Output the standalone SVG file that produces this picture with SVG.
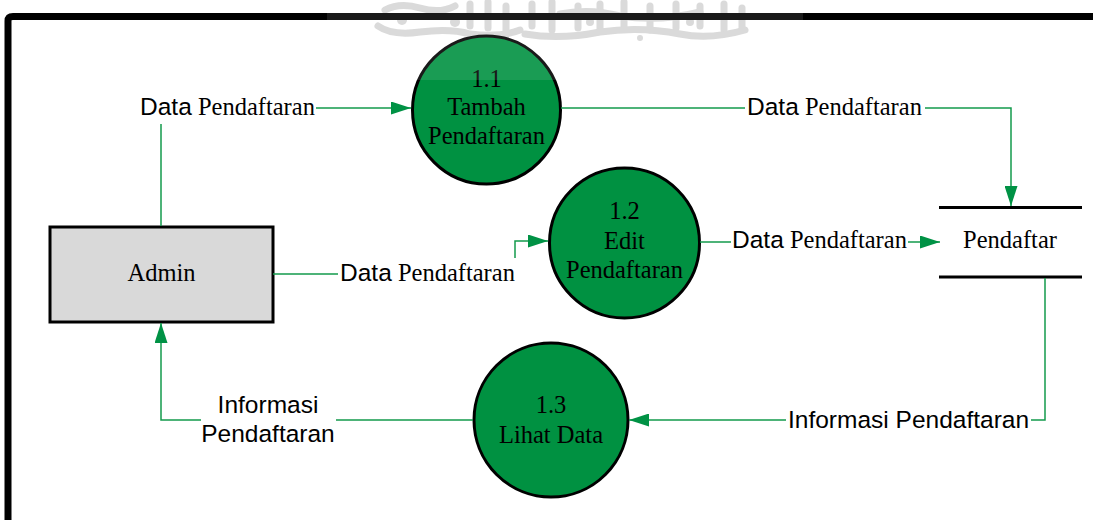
<svg xmlns="http://www.w3.org/2000/svg" width="1093" height="520" viewBox="0 0 1093 520">
<defs>
<style>
.proc{fill:#009141;stroke:#000;stroke-width:3}
.ent{fill:#d9d9d9;stroke:#000;stroke-width:3}
.store{stroke:#000;stroke-width:3}
.serif{font-family:"Liberation Serif","Times New Roman",serif;font-size:24.5px;fill:#000}
.sans{font-family:"Liberation Sans",Arial,sans-serif;font-size:24.5px;fill:#000}
.flow{fill:none;stroke:#139a4c;stroke-width:1.5}
.wm{fill:none;stroke:#d6d6d6;stroke-linecap:round;stroke-linejoin:round}
</style>
<marker id="arr" markerUnits="userSpaceOnUse" markerWidth="20" markerHeight="13" refX="20" refY="6.5" orient="auto">
<path d="M0,0 L20,6.5 L0,13 z" fill="#009245"/>
</marker>
</defs>
<rect width="1093" height="520" fill="#fff"/>
<g id="watermark">
<g class="wm" stroke-width="7">
<path d="M378,26 Q392,36 420,32 Q450,28 470,34 Q500,38 520,30"/>
<path d="M385,10 Q400,2 420,8 Q440,14 455,6"/>
<path d="M470,4 V26 M488,2 V28 M506,6 V30 M532,4 V26 M552,2 V30 M578,6 V28 M600,4 V30 M624,2 V26 M650,6 V30 M676,4 V28 M700,6 V26 M724,4 V30 M742,8 V28"/>
<path d="M525,34 Q560,40 600,32 Q640,26 680,34 Q710,40 745,30"/>
<path d="M560,14 Q590,8 620,16 Q660,22 700,12"/>
</g>
<g fill="#d6d6d6">
<circle cx="402" cy="20" r="5"/><circle cx="455" cy="22" r="5"/><circle cx="590" cy="22" r="4"/><circle cx="690" cy="22" r="4"/><circle cx="640" cy="38" r="3"/>
</g>
</g>
<path d="M8,530 V21 Q8,16.5 13,16.5 H1100" fill="none" stroke="#000" stroke-width="7"/>
<g id="admin">
<rect class="ent" x="50" y="227" width="223" height="95"/>
<text class="serif" x="161.5" y="281" text-anchor="middle">Admin</text>
</g>
<g id="p11">
<circle class="proc" cx="486.5" cy="110" r="74"/>
<text class="serif" x="486.5" y="87" text-anchor="middle">1.1</text>
<text class="serif" x="486.5" y="115" text-anchor="middle">Tambah</text>
<text class="serif" x="486.5" y="144" text-anchor="middle">Pendaftaran</text>
</g>
<g id="p12">
<circle class="proc" cx="624.5" cy="243" r="75"/>
<text class="serif" x="624.5" y="219" text-anchor="middle">1.2</text>
<text class="serif" x="624.5" y="249" text-anchor="middle">Edit</text>
<text class="serif" x="624.5" y="278" text-anchor="middle">Pendaftaran</text>
</g>
<g id="p13">
<circle class="proc" cx="551" cy="420" r="77"/>
<text class="serif" x="551" y="413" text-anchor="middle">1.3</text>
<text class="serif" x="551" y="443" text-anchor="middle">Lihat Data</text>
</g>
<g id="pendaftar">
<line class="store" x1="939" y1="207.5" x2="1082" y2="207.5"/>
<line class="store" x1="939" y1="277" x2="1082" y2="277"/>
<text class="serif" x="1010" y="248" text-anchor="middle">Pendaftar</text>
</g>
<g id="connectors">
<path class="flow" d="M161,226 V124 M316,108 H411" marker-end="url(#arr)"/>
<path class="flow" d="M561,108 H745 M925,108 H1011 V206" marker-end="url(#arr)"/>
<path class="flow" d="M273,274 H338 M515,258 V241 H548" marker-end="url(#arr)"/>
<path class="flow" d="M700,242 H731 M908,242 H940" marker-end="url(#arr)"/>
<path class="flow" d="M1045,278 V420 H1031 M786,420 H629" marker-end="url(#arr)"/>
<path class="flow" d="M473,420 H336 M201,420 H161 V323" marker-end="url(#arr)"/>
<text class="sans" x="140" y="115">Data<tspan class="serif"> Pendaftaran</tspan></text>
<text class="sans" x="747" y="115">Data<tspan class="serif"> Pendaftaran</tspan></text>
<text class="sans" x="340" y="281">Data<tspan class="serif"> Pendaftaran</tspan></text>
<text class="sans" x="732" y="248">Data<tspan class="serif"> Pendaftaran</tspan></text>
<text class="sans" x="788" y="428">Informasi Pendaftaran</text>
<text class="sans" x="268" y="413" text-anchor="middle">Informasi</text>
<text class="sans" x="268" y="442" text-anchor="middle">Pendaftaran</text>
</g>
<rect x="327" y="0" width="476" height="80" fill="#fff" opacity="0.1"/>
</svg>
